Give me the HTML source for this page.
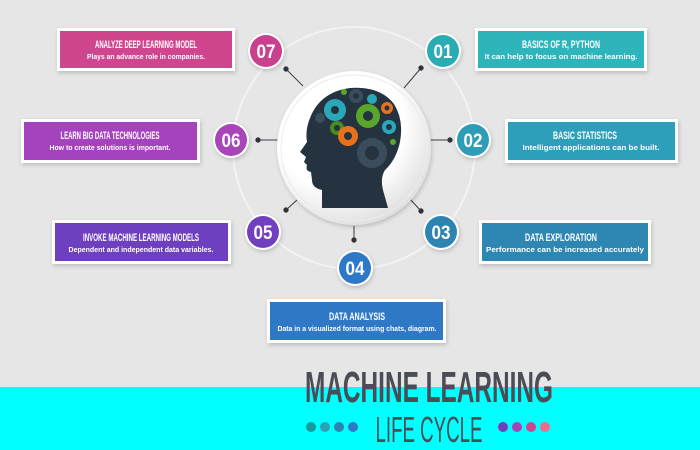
<!DOCTYPE html>
<html><head><meta charset="utf-8"><style>
html,body{margin:0;padding:0;width:700px;height:450px;overflow:hidden;background:#e6e6e6}
svg{display:block}
.t{font-family:"Liberation Sans",sans-serif;font-weight:bold;fill:#fff;text-anchor:middle;font-size:11px}
.s{font-family:"Liberation Sans",sans-serif;font-weight:bold;fill:#fff;text-anchor:middle;font-size:7.5px}
.n{font-family:"Liberation Sans",sans-serif;font-weight:bold;fill:#fff;text-anchor:middle;font-size:19px}
</style></head><body>
<svg width="700" height="450" viewBox="0 0 700 450" xmlns="http://www.w3.org/2000/svg">
<defs>
<filter id="sh" x="-20%" y="-30%" width="140%" height="160%"><feDropShadow dx="1" dy="2" stdDeviation="2" flood-color="#000" flood-opacity="0.18"/></filter>
<radialGradient id="dg" cx="0.4" cy="0.35" r="0.7"><stop offset="0.6" stop-color="#ffffff"/><stop offset="1" stop-color="#dcdcdc"/></radialGradient>
</defs>
<rect x="0" y="0" width="700" height="450" fill="#e6e6e6"/>
<rect x="0" y="387" width="700" height="63" fill="#00ffff"/>
<circle cx="354" cy="148" r="121" fill="none" stroke="#f3f3f3" stroke-width="2"/>
<g stroke="#3a3f45" stroke-width="1" fill="#2b3036">
<line x1="286" y1="69" x2="303" y2="86"/><circle cx="286" cy="69" r="2.2"/>
<line x1="258" y1="140" x2="278" y2="140"/><circle cx="258" cy="140" r="2.2"/>
<line x1="286" y1="210" x2="297" y2="200"/><circle cx="286" cy="210" r="2.2"/>
<line x1="421" y1="68" x2="404" y2="88"/><circle cx="421" cy="68" r="2.2"/>
<line x1="450" y1="140" x2="428" y2="140"/><circle cx="450" cy="140" r="2.2"/>
<line x1="421" y1="211" x2="409" y2="198"/><circle cx="421" cy="211" r="2.2"/>
<line x1="354" y1="240" x2="354" y2="226"/><circle cx="354" cy="240" r="2.2"/>
</g>
<circle cx="354" cy="148" r="77" fill="url(#dg)" filter="url(#sh)"/>
<circle cx="354" cy="148" r="73" fill="none" stroke="#ececec" stroke-width="1"/>
<path d="M322 208 L322 190 Q312 188 312 180 L311 172 Q305 171 307 165 L304 162 L306 157 L300 152 L307 142 Q305 130 310 118 Q320 92 350 88 Q380 86 394 104 Q404 120 400 142 Q396 160 385 170 Q380 178 383 190 L388 208 Z" fill="#253340"/>
<g>
<circle cx="335" cy="110" r="11" fill="#2aa7b8"/><circle cx="335" cy="110" r="4" fill="#253340"/>
<circle cx="337" cy="128" r="7" fill="#4a8b1f"/><circle cx="337" cy="128" r="3" fill="#253340"/>
<circle cx="348" cy="136" r="10" fill="#e8721c"/><circle cx="348" cy="136" r="4" fill="#253340"/>
<circle cx="368" cy="116" r="12" fill="#5aa62a"/><circle cx="368" cy="116" r="5" fill="#253340"/>
<circle cx="356" cy="96" r="7" fill="#3b4d5c"/><circle cx="356" cy="96" r="3" fill="#253340"/>
<circle cx="372" cy="99" r="5" fill="#2aa7b8"/>
<circle cx="387" cy="108" r="6" fill="#e8721c"/><circle cx="387" cy="108" r="2.5" fill="#253340"/>
<circle cx="389" cy="127" r="7" fill="#2aa7b8"/><circle cx="389" cy="127" r="3" fill="#253340"/>
<circle cx="372" cy="153" r="15" fill="#3b4d5c"/><circle cx="372" cy="153" r="7" fill="#253340"/>
<circle cx="393" cy="142" r="3" fill="#5aa62a"/>
<circle cx="320" cy="118" r="5" fill="#3b4d5c"/>
<circle cx="344" cy="92" r="3" fill="#5aa62a"/>
</g>
<g filter="url(#sh)">
<circle cx="266" cy="51" r="18" fill="#fff"/><circle cx="266" cy="51" r="16" fill="#c9408e"/>
<circle cx="231" cy="140" r="18" fill="#fff"/><circle cx="231" cy="140" r="16" fill="#a844b8"/>
<circle cx="263" cy="232" r="18" fill="#fff"/><circle cx="263" cy="232" r="16" fill="#6f3fbf"/>
<circle cx="355" cy="268" r="18" fill="#fff"/><circle cx="355" cy="268" r="16" fill="#2f78c8"/>
<circle cx="441" cy="232" r="18" fill="#fff"/><circle cx="441" cy="232" r="16" fill="#2e84b0"/>
<circle cx="473" cy="140" r="18" fill="#fff"/><circle cx="473" cy="140" r="16" fill="#2f9db8"/>
<circle cx="443" cy="51" r="18" fill="#fff"/><circle cx="443" cy="51" r="16" fill="#2aacb4"/>
</g>
<g class="n">
<text class="n" x="266" y="58" textLength="19" lengthAdjust="spacingAndGlyphs">07</text>
<text class="n" x="231" y="147" textLength="19" lengthAdjust="spacingAndGlyphs">06</text>
<text class="n" x="263" y="239" textLength="19" lengthAdjust="spacingAndGlyphs">05</text>
<text class="n" x="355" y="275" textLength="19" lengthAdjust="spacingAndGlyphs">04</text>
<text class="n" x="441" y="239" textLength="19" lengthAdjust="spacingAndGlyphs">03</text>
<text class="n" x="473" y="147" textLength="19" lengthAdjust="spacingAndGlyphs">02</text>
<text class="n" x="443" y="58" textLength="19" lengthAdjust="spacingAndGlyphs">01</text>
</g>
<g filter="url(#sh)" fill="#fff">
<rect x="57" y="28" width="178" height="43"/>
<rect x="21" y="119" width="179" height="44"/>
<rect x="52" y="220" width="179" height="44"/>
<rect x="475" y="28" width="172" height="43"/>
<rect x="505" y="119" width="173" height="44"/>
<rect x="479" y="220" width="172" height="44"/>
<rect x="267" y="299" width="179" height="44"/>
</g>
<rect x="60" y="31" width="172" height="37" fill="#cf468f"/>
<rect x="24" y="122" width="173" height="38" fill="#a542be"/>
<rect x="55" y="223" width="173" height="38" fill="#6e3fbf"/>
<rect x="478" y="31" width="166" height="37" fill="#2eb5bc"/>
<rect x="508" y="122" width="167" height="38" fill="#2d9fbb"/>
<rect x="482" y="223" width="166" height="38" fill="#2d87b2"/>
<rect x="270" y="302" width="173" height="38" fill="#2e78c6"/>
<text class="t" x="146" y="48" textLength="102" lengthAdjust="spacingAndGlyphs">ANALYZE DEEP LEARNING MODEL</text>
<text class="s" x="146" y="59" textLength="118" lengthAdjust="spacingAndGlyphs">Plays an advance role in companies.</text>
<text class="t" x="110" y="139" textLength="99" lengthAdjust="spacingAndGlyphs">LEARN BIG DATA TECHNOLOGIES</text>
<text class="s" x="110" y="150" textLength="121" lengthAdjust="spacingAndGlyphs">How to create solutions is important.</text>
<text class="t" x="141" y="241" textLength="116" lengthAdjust="spacingAndGlyphs">INVOKE MACHINE LEARNING MODELS</text>
<text class="s" x="141" y="252" textLength="145" lengthAdjust="spacingAndGlyphs">Dependent and independent data variables.</text>
<text class="t" x="561" y="48" textLength="78" lengthAdjust="spacingAndGlyphs">BASICS OF R, PYTHON</text>
<text class="s" x="561" y="59" textLength="153" lengthAdjust="spacingAndGlyphs">It can help to focus on machine learning.</text>
<text class="t" x="585" y="139" textLength="64" lengthAdjust="spacingAndGlyphs">BASIC STATISTICS</text>
<text class="s" x="591" y="150" textLength="137" lengthAdjust="spacingAndGlyphs">Intelligent applications can be built.</text>
<text class="t" x="561" y="241" textLength="72" lengthAdjust="spacingAndGlyphs">DATA EXPLORATION</text>
<text class="s" x="565" y="252" textLength="158" lengthAdjust="spacingAndGlyphs">Performance can be increased accurately</text>
<text class="t" x="357" y="320" textLength="56" lengthAdjust="spacingAndGlyphs">DATA ANALYSIS</text>
<text class="s" x="357" y="331" textLength="159" lengthAdjust="spacingAndGlyphs">Data in a visualized format using chats, diagram.</text>
<text x="429" y="402" text-anchor="middle" font-family="Liberation Sans,sans-serif" font-weight="bold" font-size="44" fill="#4a4d55" textLength="248" lengthAdjust="spacingAndGlyphs">MACHINE LEARNING</text>
<text x="429" y="442" text-anchor="middle" font-family="Liberation Sans,sans-serif" font-size="36" fill="#4a4d55" textLength="107" lengthAdjust="spacingAndGlyphs">LIFE CYCLE</text>
<circle cx="311" cy="427" r="5" fill="#159a9c"/>
<circle cx="325" cy="427" r="5" fill="#2fa0b8"/>
<circle cx="339" cy="427" r="5" fill="#2e84b0"/>
<circle cx="353" cy="427" r="5" fill="#2f78c8"/>
<circle cx="503" cy="427" r="5" fill="#6f3fbf"/>
<circle cx="517" cy="427" r="5" fill="#a844b8"/>
<circle cx="531" cy="427" r="5" fill="#cf468f"/>
<circle cx="545" cy="427" r="5" fill="#f06a8a"/>
</svg>
</body></html>
